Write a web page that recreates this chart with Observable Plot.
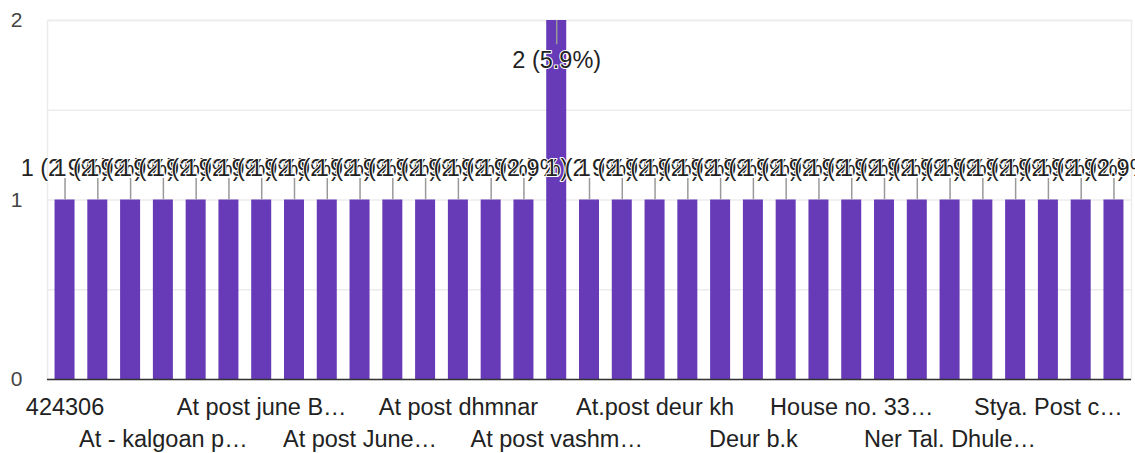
<!DOCTYPE html>
<html>
<head>
<meta charset="utf-8">
<script src="https://cdn.jsdelivr.net/npm/d3@7"></script>
<script src="https://cdn.jsdelivr.net/npm/@observablehq/plot@0.6"></script>
<style>
  html, body { margin: 0; padding: 0; background: #fff; }
</style>
</head>
<body>
<div id="chart"></div>
<script>
// Categories (responses) in display order; only every third label is readable in the reference
const categories = [
  "424306", "At & post Nimgul", "At Kapadne",
  "At - kalgoan p…", "At Nandane", "At post Borkund",
  "At post june B…", "At post Jamde", "At post Jebapur",
  "At post June…", "At post Kusumba", "At post Nagaon",
  "At post dhmnar", "At post Songir", "At post Tisgaon",
  "At post vashm…", "At post wadi", "At.post Arvi",
  "At.post deur kh", "At.post Ner", "Borvihir",
  "Deur b.k", "Dhule", "Gondur",
  "House no. 33…", "Kusumba Tal. Dhule", "Mohadi",
  "Ner Tal. Dhule…", "Nimdale", "Sakri Road",
  "Stya. Post c…", "Sonagir", "Walvadi"
];
const counts = [
  1, 1, 1, 1, 1, 1, 1, 1, 1, 1, 1, 1, 1, 1, 1,
  2,
  1, 1, 1, 1, 1, 1, 1, 1, 1, 1, 1, 1, 1, 1, 1, 1, 1
];
const tickLabelsRow1 = ["424306", "At post june B…", "At post dhmnar", "At.post deur kh", "House no. 33…", "Stya. Post c…"];
const tickLabelsRow2 = ["At - kalgoan p…", "At post June…", "At post vashm…", "Deur b.k", "Ner Tal. Dhule…"];
const yTicks = [0, 1, 2];
const yGrid = [0.5, 1, 1.5, 2];

const total = d3.sum(counts);
const maxCount = d3.max(counts);
const data = categories.map((c, i) => ({cat: c, count: counts[i]}));
const fmtLabel = d => `${d.count} (${(d.count / total * 100).toFixed(1)}%)`;

const chart = Plot.plot({
  width: 1135,
  height: 453,
  marginLeft: 47,
  marginRight: 4,
  marginTop: 20,
  marginBottom: 74,
  style: {fontFamily: "'Liberation Sans', Arial, sans-serif", background: "#fff", overflow: "hidden"},
  x: {domain: categories, paddingInner: 0.39, paddingOuter: 0.23, round: false, axis: null, label: null},
  y: {domain: [0, 2], axis: null, label: null},
  marks: [
    Plot.ruleY(yGrid, {stroke: "#ececec", strokeWidth: 1.5}),
    Plot.frame({stroke: "#ececec", strokeWidth: 1.5}),
    Plot.barY(data, {x: "cat", y: "count", fill: "#673ab7"}),
    Plot.ruleY([0], {stroke: "#333", strokeWidth: 1.5}),
    Plot.ruleX(data, {
      x: "cat",
      y1: "count",
      y2: d => d.count === maxCount ? d.count - 0.135 : d.count + 0.12,
      stroke: "#999",
      strokeWidth: 1.5
    }),
    Plot.text(data, {
      x: "cat",
      y: d => d.count === maxCount ? d.count - 0.22 : d.count + 0.176,
      text: fmtLabel,
      fontSize: 23.5,
      fill: "#222",
      stroke: "#fff",
      strokeWidth: 2
    }),
    Plot.axisY({ticks: yTicks, tickSize: 0, tickPadding: 25, fontSize: 21, color: "#444", label: null, tickFormat: d => String(d)}),
    Plot.axisX({ticks: tickLabelsRow1, tickSize: 0, tickPadding: 19, fontSize: 23.5, color: "#222", label: null}),
    Plot.axisX({ticks: tickLabelsRow2, tickSize: 0, tickPadding: 51, fontSize: 23.5, color: "#222", label: null})
  ]
});
document.getElementById("chart").appendChild(chart);
</script>
</body>
</html>
